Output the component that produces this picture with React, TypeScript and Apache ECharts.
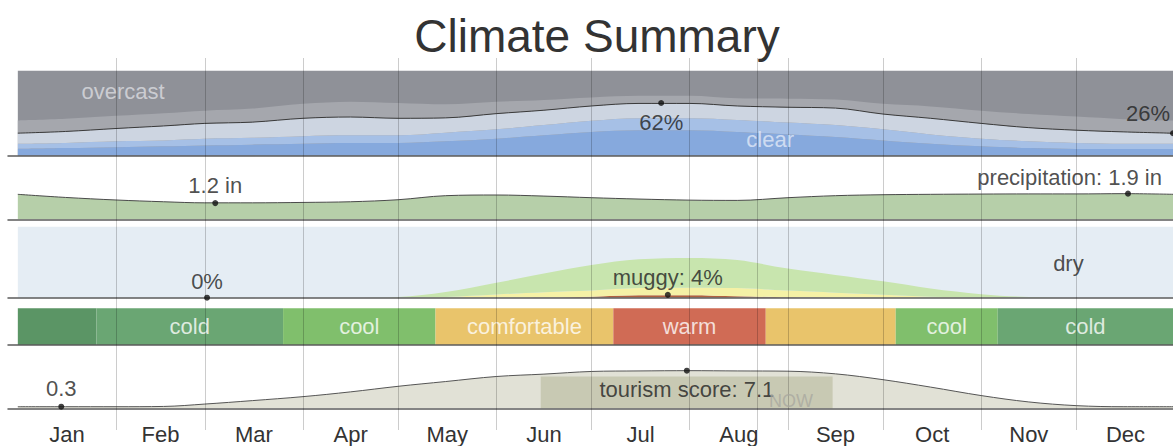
import React, { useEffect, useRef } from "react";
import * as echarts from "echarts";

const FONT = "'Liberation Sans', Arial, Helvetica, sans-serif";

const months = ["Jan", "Feb", "Mar", "Apr", "May", "Jun", "Jul", "Aug", "Sep", "Oct", "Nov", "Dec"];
const monthStartDays = [31, 59, 90, 120, 151, 181, 212, 243, 273, 304, 334];
const monthMidDays = [15.5, 45, 74.5, 105, 135.5, 166, 196.5, 227.5, 258, 288.5, 319, 349.5];
const nowDay = 233.2;

const days = [0, 15, 31, 46, 59, 74, 90, 105, 120, 135, 151, 166, 181, 196, 212, 227, 243, 258, 273, 288, 304, 319, 334, 349, 365];

// cloud cover (% of time), stacked from the bottom
const cloudClear = [8, 9, 10, 11, 12, 13, 14, 15, 15, 17, 20, 24, 28, 30, 30, 28, 25, 22, 18, 14, 11, 9, 8, 8, 8];
const cloudMostlyClear = [6, 6, 7, 7, 8, 8, 9, 9, 9, 10, 11, 12, 13, 14, 14, 14, 14, 14, 13, 11, 9, 8, 7, 6, 6];
const cloudPartlyCloudy = [12.5, 13.5, 15, 17, 18, 18.5, 21, 21.5, 20, 17.5, 18.5, 17.5, 17.5, 17.5, 17.5, 16.5, 18, 20, 18, 19, 18, 16, 15, 14, 12.4];
const cloudMostlyCloudy = [15, 15, 15, 15, 15, 16, 17, 18, 18, 16, 14, 12, 10, 9, 9, 9, 10, 10, 12, 14, 15, 16, 16, 15, 15];

// precipitation (inches, 31-day)
const precipIn = [1.85, 1.62, 1.43, 1.3, 1.22, 1.22, 1.25, 1.3, 1.45, 1.75, 1.8, 1.72, 1.6, 1.5, 1.42, 1.4, 1.6, 1.75, 1.82, 1.85, 1.87, 1.88, 1.88, 1.9, 1.85];

// humidity comfort (% of time), stacked from the bottom
const humMuggy = [0, 0, 0, 0, 0, 0, 0, 0, 0, 0, 0, 0.3, 1.5, 3.5, 3.5, 2, 0.5, 0, 0, 0, 0, 0, 0, 0, 0];
const humHumid = [0, 0, 0, 0, 0, 0, 0, 0, 0, 1, 4.5, 7.5, 8.5, 10, 10.5, 11.5, 9.5, 7, 4, 1.5, 0.3, 0, 0, 0, 0];
const humComfortable = [0, 0, 0, 0, 0, 0, 0, 0, 1, 7, 16.5, 26.2, 36, 40.5, 42, 39.5, 31, 25, 19, 11.5, 4.7, 1, 0, 0, 0];

// temperature categories
const tempStart = [0, 24.8, 83.7, 131.8, 187.9, 236, 277, 309.2];
const tempEnd = [24.8, 83.7, 131.8, 187.9, 236, 277, 309.2, 365];
const tempCategory = ["very cold", "cold", "cool", "comfortable", "warm", "comfortable", "cool", "cold"];
const tempLabel = ["", "cold", "cool", "comfortable", "warm", "", "cool", "cold"];

// tourism score
const tourism = [0.3, 0.3, 0.3, 0.35, 0.8, 1.45, 2.2, 3.1, 4.15, 5.05, 6.0, 6.45, 6.95, 7.05, 7.1, 7.05, 7.0, 6.5, 5.4, 4.0, 2.4, 1.2, 0.5, 0.3, 0.3];
const tourismBestStart = 165;
const tourismBestEnd = 257.1;
const tourismBestTop = 6;

const DAY_MS = 86400000;
const T0 = Date.UTC(2021, 0, 1);
const t = (d: number) => T0 + d * DAY_MS;
const X_MIN = -3.1;
const X_MAX = 364.5;

const tempColors: Record<string, string> = {
  "very cold": "#5b9565",
  cold: "#6aa673",
  cool: "#80bf6c",
  comfortable: "#e9c46b",
  warm: "#d06b55",
};

const pairs = (arr: number[]) => days.map((d, i) => [t(d), arr[i]]);

export default function App() {
  const ref = useRef<HTMLDivElement>(null);
  useEffect(() => {
    if (!ref.current) return;
    const chart = echarts.init(ref.current, undefined, { renderer: "svg" });

    // 0 cloud, 1 precip, 2 humidity, 3 temperature, 4 tourism, 5 month lines, 6 month labels
    const grids = [
      { left: 8, right: 0, top: 70.7, height: 85 },
      { left: 8, right: 0, top: 178.8, height: 40.5 },
      { left: 8, right: 0, top: 226.7, height: 71 },
      { left: 8, right: 0, top: 308.3, height: 36.7 },
      { left: 8, right: 0, top: 355.3, height: 53 },
      { left: 8, right: 0, top: 58, height: 372 },
      { left: 8, right: 0, top: 355.3, height: 53 },
    ];
    const yMax = [100, 3, 100, 1, 10, 1, 1];

    const xAxes: any[] = grids.map((_, i) => {
      if (i >= 5) {
        return {
          type: "value",
          gridIndex: i,
          min: X_MIN,
          max: X_MAX,
          axisLine: { show: false },
          axisTick: { show: false },
          splitLine: { show: false },
          axisLabel:
            i === 6
              ? {
                  show: true,
                  customValues: monthMidDays,
                  formatter: (v: number) => {
                    const k = monthMidDays.findIndex((m) => Math.abs(m - v) < 0.01);
                    return k >= 0 ? months[k] : "";
                  },
                  fontSize: 22,
                  color: "#333",
                  fontFamily: FONT,
                  margin: 15,
                }
              : { show: false },
        };
      }
      return {
        type: "time",
        gridIndex: i,
        min: t(X_MIN),
        max: t(X_MAX),
        z: 5,
        axisLine: { show: true, onZero: false, lineStyle: { color: "#5b5b5b", width: 1.5 } },
        axisTick: { show: false },
        splitLine: { show: false },
        axisLabel: { show: false },
      };
    });
    const yAxes = grids.map((_, i) => ({
      type: "value",
      gridIndex: i,
      min: 0,
      max: yMax[i],
      show: false,
    }));

    const layer = (data: number[], gi: number, stack: string | undefined, color: string, z: number, line?: any) => ({
      type: "line",
      xAxisIndex: gi,
      yAxisIndex: gi,
      data: pairs(data),
      stack,
      smooth: 0.35,
      symbol: "none",
      silent: true,
      z,
      lineStyle: line ?? { width: 0, opacity: 0 },
      areaStyle: { color, opacity: 1 },
    });

    const lbl = (text: string, extra: any = {}) => ({
      show: true,
      formatter: text,
      fontSize: 22,
      color: "#222",
      fontFamily: FONT,
      ...extra,
    });
    const dot = (day: number, v: number, text: string, label: any, size = 6) => ({
      value: [t(day), v],
      symbolSize: size,
      label: lbl(text, label),
    });

    const annot = (gi: number, data: any[]) => ({
      type: "scatter",
      xAxisIndex: gi,
      yAxisIndex: gi,
      silent: true,
      clip: false,
      z: 20,
      itemStyle: { color: "#111" },
      data,
    });

    const bg = (gi: number, color: string) => ({
      type: "line",
      xAxisIndex: gi,
      yAxisIndex: gi,
      data: [],
      z: 1,
      silent: true,
      markArea: {
        silent: true,
        z: 1,
        itemStyle: { color },
        data: [[{ xAxis: t(0) }, { xAxis: t(X_MAX) }]],
      },
    });

    const option: any = {
      animation: false,
      graphic: [
        {
          type: "text",
          x: 597,
          y: 36,
          style: {
            text: "Climate Summary",
            fontSize: 46,
            fontFamily: FONT,
            fill: "#333",
            textAlign: "center",
            textVerticalAlign: "middle",
          },
        },
      ],
      grid: grids,
      xAxis: xAxes,
      yAxis: yAxes,
      series: [
        bg(0, "#8f9198"),
        layer(cloudClear, 0, "cloud", "#86a9dd", 2),
        layer(cloudMostlyClear, 0, "cloud", "#a6c0e6", 2),
        layer(cloudPartlyCloudy, 0, "cloud", "#cdd5e1", 2, { width: 1, color: "#3a3a3a" }),
        layer(cloudMostlyCloudy, 0, "cloud", "#a5a7ad", 2),
        layer(precipIn, 1, undefined, "#b6cfa9", 2, { width: 1, color: "#4a4a4a" }),
        bg(2, "#e5edf4"),
        layer(humMuggy, 2, "hum", "#b0603f", 2),
        layer(humHumid, 2, "hum", "#f5f1a6", 2),
        layer(humComfortable, 2, "hum", "#c8e5ae", 2),
        {
          type: "line",
          xAxisIndex: 3,
          yAxisIndex: 3,
          data: [],
          z: 2,
          silent: true,
          markArea: {
            silent: true,
            z: 2,
            label: {
              show: true,
              position: "inside",
              fontSize: 22,
              fontFamily: FONT,
              color: "rgba(255,255,255,0.78)",
            },
            data: tempStart.map((s, i) => [
              { name: tempLabel[i], xAxis: t(s), itemStyle: { color: tempColors[tempCategory[i]] } },
              { xAxis: t(Math.min(tempEnd[i], X_MAX)) },
            ]),
          },
        },
        layer(tourism, 4, undefined, "#e1e1d6", 2),
        {
          type: "line",
          xAxisIndex: 4,
          yAxisIndex: 4,
          data: [],
          z: 3,
          silent: true,
          markArea: {
            silent: true,
            z: 3,
            itemStyle: { color: "#c8c9b3" },
            data: [[{ xAxis: t(tourismBestStart), yAxis: 0 }, { xAxis: t(tourismBestEnd), yAxis: tourismBestTop }]],
          },
        },
        {
          type: "line",
          xAxisIndex: 4,
          yAxisIndex: 4,
          data: pairs(tourism),
          smooth: 0.35,
          symbol: "none",
          silent: true,
          z: 4,
          lineStyle: { width: 1, color: "#555" },
        },
        {
          type: "line",
          xAxisIndex: 5,
          yAxisIndex: 5,
          data: [],
          z: 10,
          silent: true,
          markLine: {
            silent: true,
            z: 10,
            symbol: ["none", "none"],
            label: { show: false },
            lineStyle: { color: "rgba(0,0,0,0.2)", width: 1, type: "solid" },
            data: [...monthStartDays, nowDay].map((d) => ({ xAxis: d })),
          },
        },
        annot(0, [
          dot(203, 62, "62%", { position: "bottom", distance: 5 }),
          dot(X_MAX, 26.4, "26%", { position: "top", align: "right", offset: [-3, 0], distance: 6 }),
          dot(33.2, 75, "overcast", { position: "inside", color: "#dcdde1" }, 0),
          dot(237.4, 18.5, "clear", { position: "inside", color: "#e2eaf7" }, 0),
        ]),
        annot(1, [
          dot(62.3, 1.2, "1.2 in", { position: "top", distance: 4 }),
          dot(350.3, 1.9, "precipitation: 1.9 in", { position: "top", align: "right", offset: [34, 2], distance: 4 }),
        ]),
        annot(2, [
          dot(59.7, 0, "0%", { position: "top", distance: 2 }),
          dot(205.1, 4, "muggy: 4%", { position: "top", distance: 3 }),
          dot(331.5, 47.5, "dry", { position: "inside" }, 0),
        ]),
        annot(4, [
          dot(13.7, 0.3, "0.3", { position: "top", distance: 4 }),
          dot(211.1, 7.1, "tourism score: 7.1", { position: "bottom", distance: 5 }),
          dot(nowDay, 1.3, "NOW", { position: "right", distance: 12, fontSize: 18, color: "#a8a89f" }, 0),
        ]),
      ],
    };

    chart.setOption(option);
    return () => chart.dispose();
  }, []);

  return (
    <div
      ref={ref}
      style={{ position: "fixed", left: 0, top: 0, width: 1173, height: 446, background: "#fff" }}
    />
  );
}
